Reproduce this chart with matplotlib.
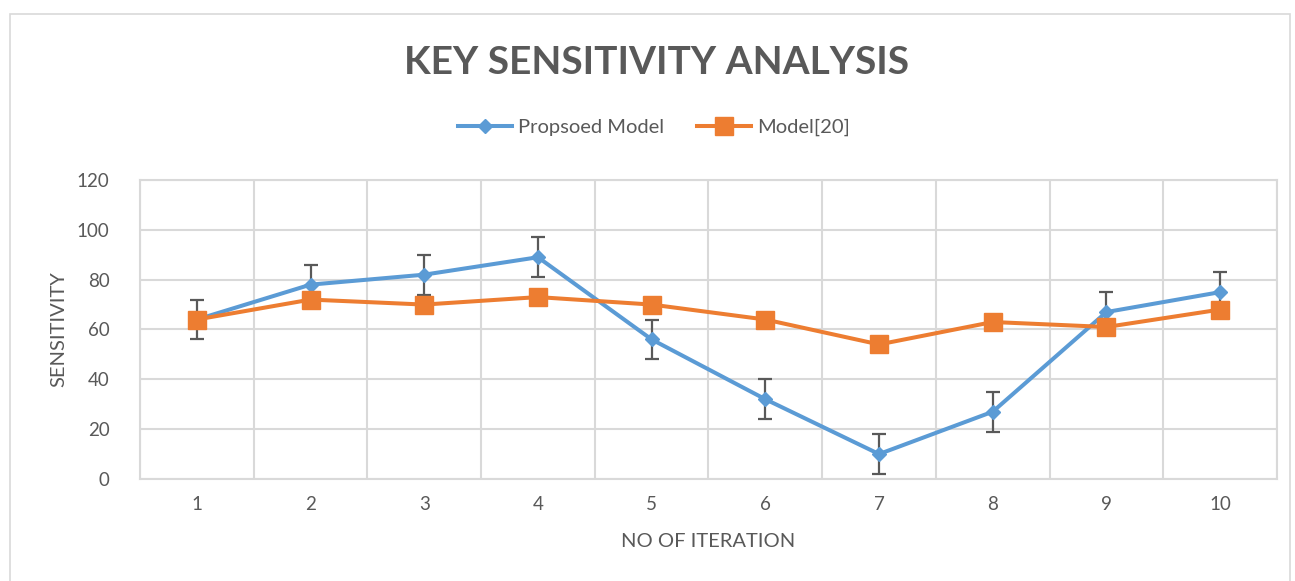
import matplotlib.pyplot as plt
from matplotlib.patches import Rectangle

plt.rcParams['font.family'] = ['Lato', 'DejaVu Sans']

# Datos
iteraciones = [1, 2, 3, 4, 5, 6, 7, 8, 9, 10]
propuesto = [64, 78, 82, 89, 56, 32, 10, 27, 67, 75]
modelo20 = [64, 72, 70, 73, 70, 64, 54, 63, 61, 68]
error_propuesto = 8

gris = '#595959'
rejilla = '#D9D9D9'
azul = '#5B9BD5'
naranja = '#ED7D31'

fig = plt.figure(figsize=(12.95, 5.81), dpi=100)
ax = fig.add_axes([0.1081, 0.1756, 0.878, 0.5146])

# Marco exterior del gráfico
fig.patches.append(Rectangle((0.008, -0.01), 0.988, 0.986, transform=fig.transFigure,
                             fill=False, edgecolor=rejilla, linewidth=1.2))

ax.errorbar(iteraciones, propuesto, yerr=error_propuesto, fmt='none',
            ecolor=gris, elinewidth=1.6, capsize=5, capthick=1.6, zorder=2)
ax.plot(iteraciones, propuesto, color=azul, linewidth=2.9, marker='D',
        markersize=7, label='Propsoed Model', zorder=3)
ax.plot(iteraciones, modelo20, color=naranja, linewidth=2.9, marker='s',
        markersize=12.5, label='Model[20]', zorder=4)

ax.set_xlim(0.5, 10.5)
ax.set_ylim(0, 120)
ax.set_yticks(range(0, 121, 20))
ax.set_xticks(iteraciones)
ax.set_xticks([i + 0.5 for i in range(0, 11)], minor=True)
ax.tick_params(axis='both', which='both', length=0, labelsize=13.5, colors=gris)
ax.tick_params(axis='y', pad=22)
ax.tick_params(axis='x', pad=12)
ax.grid(True, which='minor', axis='x', color=rejilla, linewidth=1.5)
ax.grid(True, which='major', axis='y', color=rejilla, linewidth=1.5)
ax.set_axisbelow(True)
for s in ax.spines.values():
    s.set_color(rejilla)
    s.set_linewidth(1.5)

ax.set_xlabel('NO OF ITERATION', fontsize=14.5, color=gris, labelpad=15)
ax.set_ylabel('SENSITIVITY', fontsize=14.5, color=gris, labelpad=7)

fig.text(0.507, 0.893, 'KEY SENSITIVITY ANALYSIS',
         ha='center', va='center', fontsize=28, fontweight='bold', color=gris)

fig.legend(loc='center', bbox_to_anchor=(0.505, 0.781), ncol=2, frameon=False,
           fontsize=14.5, labelcolor=gris, handlelength=2.7, columnspacing=1.6,
           handletextpad=0.3)

fig.savefig('out.png', dpi=100)
